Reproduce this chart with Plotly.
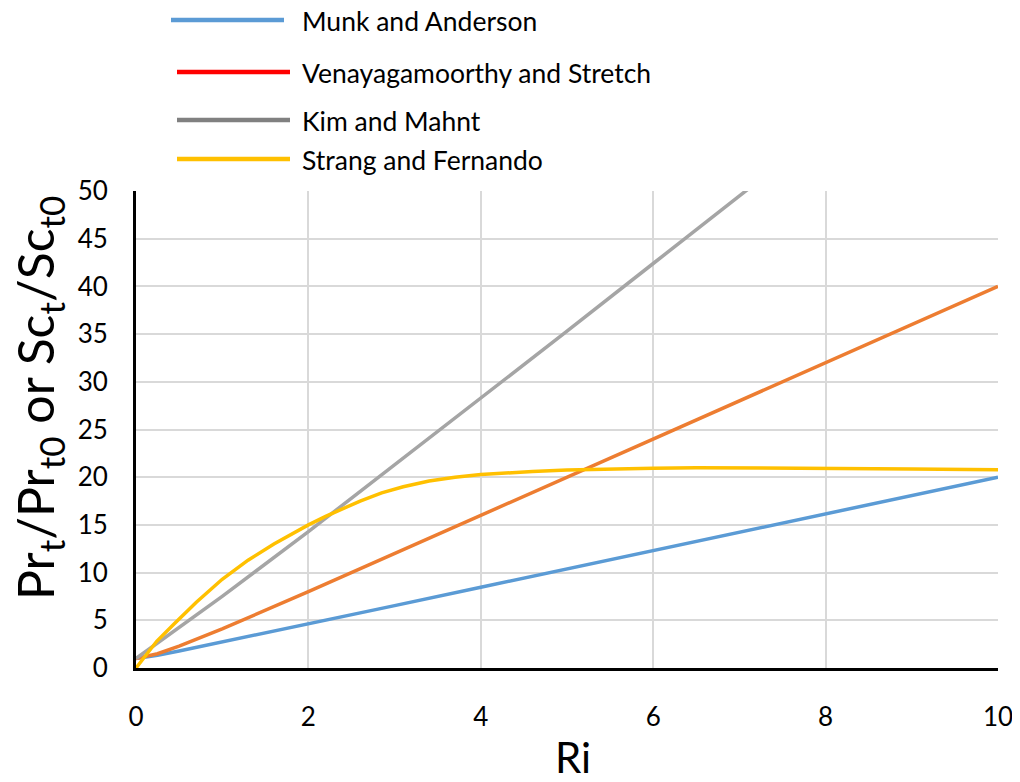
import plotly.graph_objects as go

# Data
ri_munk = [0, 0.25, 0.5, 1, 2, 3, 4, 5, 6, 7, 8, 9, 10]
munk = [1.0, 1.33, 1.78, 2.72, 4.63, 6.54, 8.46, 10.38, 12.30, 14.23, 16.15, 18.07, 20.0]

ri_ven = [0, 0.25, 0.5, 1, 2, 3, 4, 5, 6, 7, 8, 9, 10]
ven = [1.0, 1.5, 2.3, 4.1, 8.0, 12.0, 16.0, 20.0, 24.0, 28.0, 32.0, 36.0, 40.0]

ri_kim = [0, 1, 2, 3, 4, 5, 6, 7, 7.2]
kim = [1.0, 7.5, 14.3, 21.3, 28.2, 35.3, 42.4, 49.5, 50.9]

ri_strang = [0, 0.24, 0.45, 0.7, 1.0, 1.3, 1.6, 1.8, 2.0, 2.2, 2.4, 2.6, 2.85, 3.1, 3.4,
             3.7, 4.0, 4.3, 4.6, 5.0, 5.5, 6.0, 6.5, 7.0, 8.0, 9.0, 10.0]
strang = [0, 2.8, 4.7, 6.9, 9.3, 11.3, 13.0, 14.05, 15.0, 15.9, 16.7, 17.5, 18.35, 19.0, 19.6,
          20.0, 20.28, 20.48, 20.6, 20.75, 20.88, 20.95, 21.0, 20.98, 20.95, 20.85, 20.77]

names = ["Munk and Anderson", "Venayagamoorthy and Stretch", "Kim and Mahnt", "Strang and Fernando"]
line_colors = ["#5b9bd5", "#ed7d31", "#a5a5a5", "#ffc000"]
legend_colors = ["#5b9bd5", "#ff0000", "#808080", "#ffc000"]

x_ticks = [0, 2, 4, 6, 8, 10]
y_ticks = [0, 5, 10, 15, 20, 25, 30, 35, 40, 45, 50]

FONT = "Lato, Noto Sans, sans-serif"

# page body has an 8px margin; compensate so the plot area sits at x 136..998, y 191..668
OFF = 8
W, H = 1012, 774
L, R, T, B = 128, 22, 183, 114
PW, PH = W - L - R, H - T - B


def px(xp):
    return (xp - OFF - L) / PW


def py(yp):
    return (H - B - (yp - OFF)) / PH


fig = go.Figure()
series = [(ri_munk, munk), (ri_ven, ven), (ri_kim, kim), (ri_strang, strang)]
for (xs, ys), name, col in zip(series, names, line_colors):
    fig.add_trace(go.Scatter(x=xs, y=ys, mode="lines", name=name,
                             line=dict(color=col, width=3.5),
                             showlegend=False))

# Custom legend (drawn above the plot area, as in the reference)
leg_y = [20, 72, 120, 159]
leg_x0 = [171, 177, 177, 177]
leg_x1 = [284, 290, 290, 290]
for name, col, y, x0, x1 in zip(names, legend_colors, leg_y, leg_x0, leg_x1):
    fig.add_shape(type="line", xref="paper", yref="paper", x0=px(x0), x1=px(x1),
                  y0=py(y), y1=py(y), line=dict(color=col, width=4.5))
    fig.add_annotation(xref="paper", yref="paper", x=px(300), y=py(y + 1), text=name,
                       showarrow=False, xanchor="left", yanchor="middle",
                       font=dict(family=FONT, size=26.5, color="#000000"))

# Axis titles
fig.add_annotation(xref="paper", yref="paper", x=px(573), y=py(757), text="Ri",
                   showarrow=False, xanchor="center", yanchor="middle",
                   font=dict(family=FONT, size=42, color="#000000"))
fig.add_annotation(xref="paper", yref="paper", x=px(38), y=py(398),
                   text="Pr<sub>t</sub>/Pr<sub>t0</sub> or Sc<sub>t</sub>/Sc<sub>t0</sub>",
                   textangle=-90, showarrow=False, xanchor="center", yanchor="middle",
                   font=dict(family=FONT, size=50, color="#000000"))

fig.update_layout(
    width=W, height=H,
    margin=dict(l=L, r=R, t=T, b=B, autoexpand=False),
    paper_bgcolor="white", plot_bgcolor="white",
    font=dict(family=FONT, color="#000000"),
)
fig.update_xaxes(
    range=[0, 10], tickvals=x_ticks, ticktext=[str(v) for v in x_ticks],
    showgrid=True, gridcolor="#d9d9d9", gridwidth=1.5, zeroline=False,
    showline=True, linecolor="#000000", linewidth=3, automargin=False,
    ticks="outside", ticklen=24, tickcolor="rgba(0,0,0,0)",
    tickfont=dict(size=26, family=FONT),
)
fig.update_yaxes(
    range=[0, 50], tickvals=y_ticks, ticktext=[str(v) for v in y_ticks],
    showgrid=True, gridcolor="#d9d9d9", gridwidth=1.5, zeroline=False,
    showline=True, linecolor="#000000", linewidth=3, automargin=False,
    ticks="outside", ticklen=20, tickcolor="rgba(0,0,0,0)",
    tickfont=dict(size=26, family=FONT),
)

fig.write_html("out.html")
